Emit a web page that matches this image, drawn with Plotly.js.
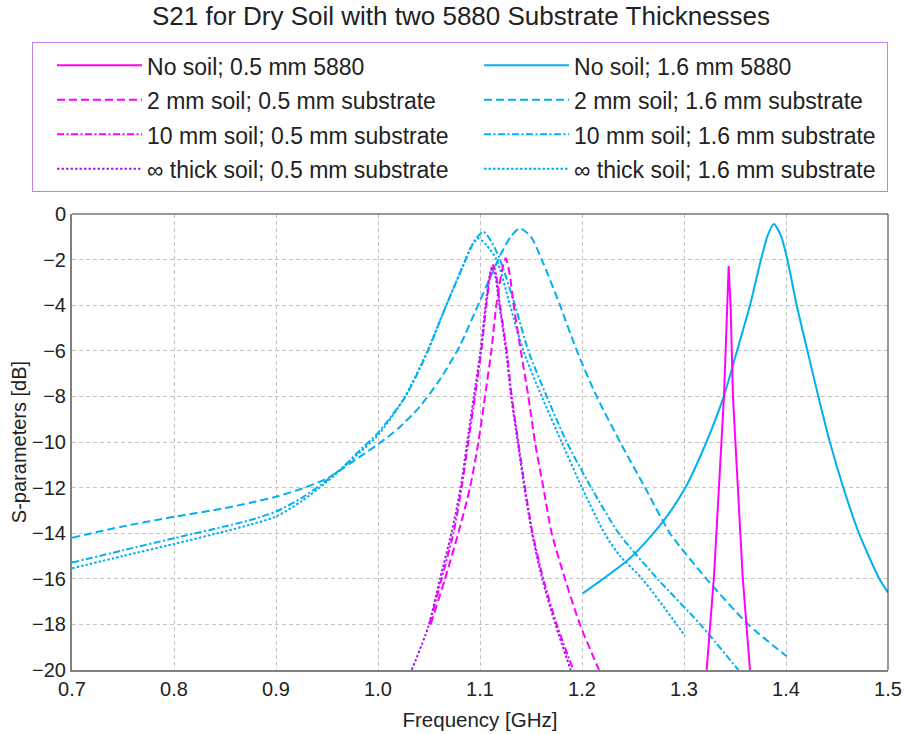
<!DOCTYPE html>
<html>
<head>
<meta charset="utf-8">
<script src="https://cdn.plot.ly/plotly-3.0.1.min.js"></script>
<style>html,body{margin:0;padding:0;background:#fff;}#chart{width:904px;height:734px;}</style>
</head>
<body>
<div id="chart"></div>
<script>
// Series names
const names = [
  "No soil; 0.5 mm 5880", "No soil; 1.6 mm 5880",
  "2 mm soil; 0.5 mm substrate", "2 mm soil; 1.6 mm substrate",
  "10 mm soil; 0.5 mm substrate", "10 mm soil; 1.6 mm substrate",
  "\u221e thick soil; 0.5 mm substrate", "\u221e thick soil; 1.6 mm substrate"
];

// No soil; 0.5 mm 5880
const magSolidX = [1.3222,1.3294,1.3392,1.3418,1.3438,1.3458,1.348,1.3575,1.3647];
const magSolidY = [-20,-15.9,-8,-4.2,-2.28,-4.2,-8,-15.9,-20];

// No soil; 1.6 mm 5880
const blueSolidX = [1.2007,1.247,1.278,1.301,1.322,1.339,1.352,1.3647,1.3755,1.382,1.388,1.395,1.4013,1.4105,1.421,1.4317,1.443,1.4562,1.4715,1.4915,1.5];
const blueSolidY = [-16.64,-15.1,-13.57,-12.03,-10,-8,-6,-4,-2,-0.95,-0.44,-0.95,-2,-4,-6,-8,-10,-12,-14,-16,-16.6];

// 2 mm soil; 0.5 mm substrate
const magDashX = [1.0516,1.0657,1.0787,1.0902,1.0984,1.1049,1.1111,1.116,1.1215,1.1252,1.129,1.133,1.140,1.1474,1.1539,1.1621,1.1703,1.1833,1.198,1.2167];
const magDashY = [-18,-16,-14,-12,-10,-8,-6,-4,-2.5,-1.94,-2.6,-4,-6,-8,-10,-12,-14,-16,-18,-20];

// 2 mm soil; 1.6 mm substrate
const blueDashX = [0.7,0.75,0.8,0.85,0.875,0.9,0.925,0.95,0.9824,1.0,1.02,1.04,1.06,1.08,1.1,1.12,1.13,1.139,1.15,1.1605,1.1784,1.195,1.2144,1.2373,1.2618,1.2863,1.322,1.363,1.4006];
const blueDashY = [-14.2,-13.7,-13.28,-12.9,-12.66,-12.4,-12.05,-11.6,-10.64,-10.1,-9.4,-8.5,-7.3,-5.8,-3.8,-1.8,-1.0,-0.63,-1.0,-2,-4,-6,-8,-10,-12,-14,-16,-18,-19.4];

// 10 mm soil; 0.5 mm substrate
const magDashDotX = [1.0503,1.0624,1.0739,1.082,1.0885,1.0951,1.1013,1.1062,1.110,1.113,1.116,1.1196,1.1262,1.1311,1.1376,1.1441,1.1516,1.162,1.1752,1.1915];
const magDashDotY = [-18,-16,-14,-12,-10,-8,-6,-4,-2.7,-2.24,-2.7,-4,-6,-8,-10,-12,-14,-16,-18,-20];

// 10 mm soil; 1.6 mm substrate
const blueDashDotX = [0.7,0.75,0.8,0.85,0.875,0.9,0.925,0.95,0.966,0.9824,1.0,1.027,1.049,1.067,1.086,1.095,1.1033,1.111,1.1196,1.1343,1.1474,1.1654,1.185,1.209,1.236,1.274,1.316,1.3533];
const blueDashDotY = [-15.29,-14.75,-14.22,-13.7,-13.42,-13.05,-12.46,-11.67,-11.08,-10.35,-9.6,-8,-6,-4,-2,-1.15,-0.78,-1.2,-2,-4,-6,-8,-10,-12,-14,-16,-18,-20];

// infinite soil; 0.5 mm substrate
const purpleDotX = [1.033,1.0493,1.0608,1.072,1.081,1.0875,1.094,1.1005,1.1055,1.1095,1.112,1.115,1.119,1.1255,1.1305,1.137,1.1435,1.151,1.161,1.174,1.1889];
const purpleDotY = [-20,-18.1,-16,-14,-12,-10,-8,-6,-4,-2.7,-2.3,-2.7,-4,-6,-8,-10,-12,-14,-16,-18,-20];

// infinite soil; 1.6 mm substrate
const blueDotX = [0.7,0.75,0.8,0.85,0.875,0.9,0.925,0.95,0.9824,1.0,1.026,1.048,1.066,1.085,1.091,1.0984,1.106,1.1163,1.1294,1.1425,1.1605,1.18,1.2,1.222,1.2373,1.259,1.2928,1.301];
const blueDotY = [-15.54,-15.0,-14.47,-13.92,-13.62,-13.27,-12.6,-11.74,-10.45,-9.7,-8.05,-6.05,-4.1,-2.1,-1.45,-1.07,-1.35,-2,-4,-6,-8,-10,-12,-14,-15,-16,-18,-18.5];

const xTicks = [0.7,0.8,0.9,1.0,1.1,1.2,1.3,1.4,1.5];
const yTicks = [0,-2,-4,-6,-8,-10,-12,-14,-16,-18,-20];

const MAG = '#ff00ff', BLUE = '#00b0f0', PURPLE = '#a020f0';
const DASH = '8px,4px', DASHDOT = '7px,2.5px,2px,2.5px', DOT = '2.5px,2px';

function tr(x, y, name, color, dash, rank, shape) {
  return {
    x: x, y: y, type: 'scatter', mode: 'lines',
    name: '<span style="font-size:23px">' + name + '</span>',
    line: {color: color, width: 2, dash: dash, shape: shape || 'spline', smoothing: 0.7},
    legendrank: rank, hoverinfo: 'x+y'
  };
}

const data = [
  tr(blueSolidX, blueSolidY, names[1], BLUE, 'solid', 2),
  tr(blueDashX, blueDashY, names[3], BLUE, DASH, 4),
  tr(blueDashDotX, blueDashDotY, names[5], BLUE, DASHDOT, 6),
  tr(blueDotX, blueDotY, names[7], BLUE, DOT, 8),
  tr(magSolidX, magSolidY, names[0], MAG, 'solid', 1, 'linear'),
  tr(magDashX, magDashY, names[2], MAG, DASH, 3),
  tr(magDashDotX, magDashDotY, names[4], MAG, DASHDOT, 5),
  tr(purpleDotX, purpleDotY, names[6], PURPLE, DOT, 7)
];

const FONT = 'Liberation Sans, Arial, sans-serif';

const layout = {
  width: 904, height: 734,
  margin: {l: 72, r: 16, t: 214, b: 64},
  paper_bgcolor: '#fff', plot_bgcolor: '#fff',
  font: {family: FONT, color: '#222', size: 20},
  title: {text: 'S21 for Dry Soil with two 5880 Substrate Thicknesses',
          font: {family: FONT, size: 26, color: '#222'},
          x: 0.51, xanchor: 'center', y: 0.978, yanchor: 'middle'},
  showlegend: true,
  legend: {
    orientation: 'h', x: -0.049, xanchor: 'left', y: 1.377, yanchor: 'top',
    entrywidth: 308, entrywidthmode: 'pixels',
    itemwidth: 85, indentation: 19,
    bordercolor: '#c080f0', borderwidth: 1, bgcolor: '#fff',
    font: {family: FONT, size: 24.2, color: '#222'},
    traceorder: 'normal'
  },
  xaxis: {
    range: [0.7, 1.5], tickvals: xTicks, tickformat: '.1f',
    showgrid: true, gridcolor: '#c4c4c4', griddash: '4px,3px', gridwidth: 1,
    zeroline: false, showline: true, linecolor: '#808080', linewidth: 2, mirror: false,
    ticks: '', tickfont: {size: 20, color: '#222'},
    title: {text: 'Frequency [GHz]', font: {size: 20.5, color: '#222'}, standoff: 14}
  },
  yaxis: {
    range: [-20, 0], tickvals: yTicks,
    showgrid: true, gridcolor: '#c4c4c4', griddash: '4px,3px', gridwidth: 1,
    zeroline: false, showline: true, linecolor: '#808080', linewidth: 2, mirror: false,
    ticks: '', tickfont: {size: 20, color: '#222'},
    title: {text: 'S-parameters [dB]', font: {size: 20, color: '#222'}, standoff: 0}
  },
  shapes: [
    {type: 'line', xref: 'paper', yref: 'paper', x0: 0, x1: 1, y0: 1, y1: 1, line: {color: '#333', width: 1}},
    {type: 'line', xref: 'paper', yref: 'paper', x0: 1, x1: 1, y0: 0, y1: 1, line: {color: '#333', width: 1}}
  ]
};

Plotly.newPlot('chart', data, layout, {displayModeBar: false, responsive: false});
</script>
</body>
</html>
